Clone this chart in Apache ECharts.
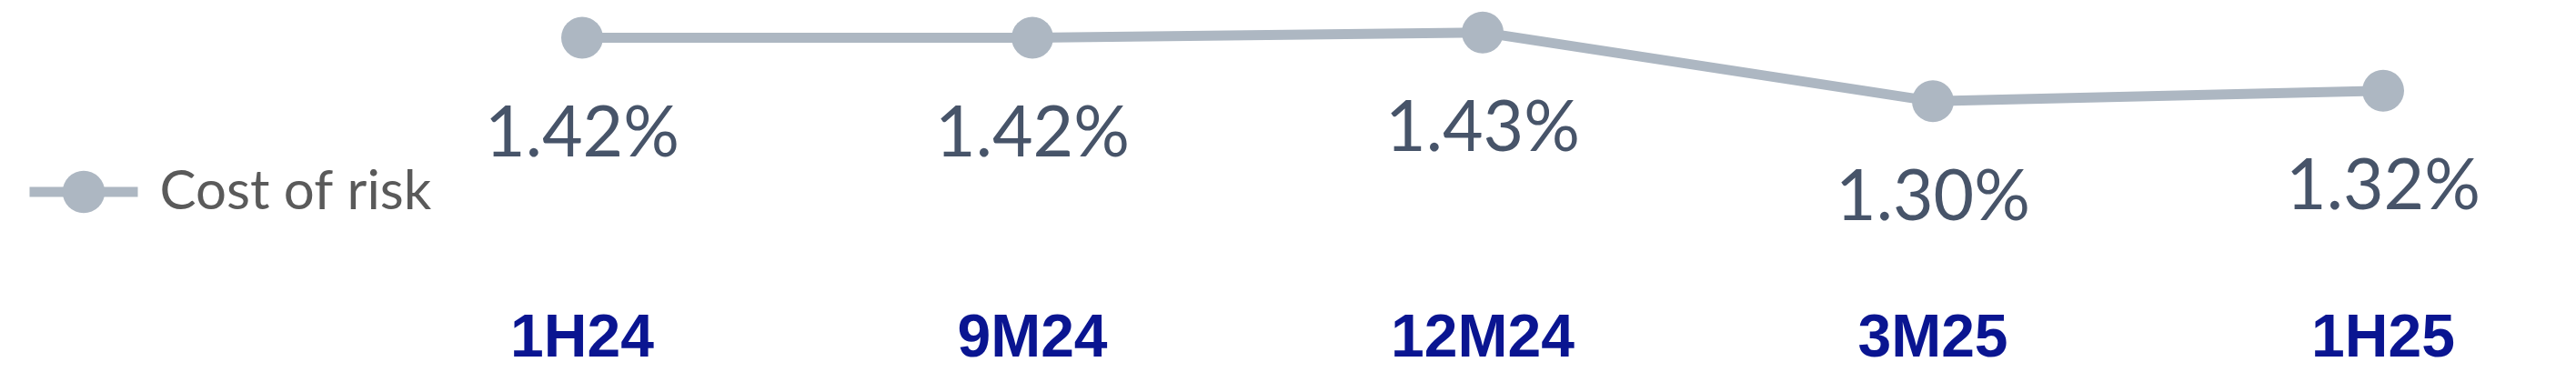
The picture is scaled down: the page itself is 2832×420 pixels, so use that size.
<!DOCTYPE html>
<html>
<head>
<meta charset="utf-8">
<script src="https://cdn.jsdelivr.net/npm/echarts@6/dist/echarts.min.js"></script>
<style>
  html, body { margin: 0; padding: 0; background: #fff; }
  #chart { width: 2832px; height: 420px; }
</style>
</head>
<body>
<div id="chart"></div>
<script>
var periods = ["1H24", "9M24", "12M24", "3M25", "1H25"];
var costOfRisk = [1.42, 1.42, 1.43, 1.30, 1.32];
var seriesName = "Cost of risk";

var lineColor = "#adb7c2";

var myChart = echarts.init(document.getElementById("chart"));
var option = {
  animation: false,
  grid: { left: 640, right: 212, top: 24, bottom: 134 },
  legend: {
    data: [seriesName],
    left: 27,
    top: 181,
    padding: 0,
    itemWidth: 119,
    itemHeight: 58,
    lineStyle: { width: 11 },
    textStyle: {
      fontFamily: "Lato",
      fontSize: 60,
      color: "#5a5a5a",
      padding: [0, 0, 0, 19]
    }
  },
  xAxis: {
    type: "category",
    data: periods,
    boundaryGap: false,
    axisLine: { show: false },
    axisTick: { show: false },
    axisLabel: {
      margin: 55,
      fontFamily: "Liberation Sans",
      fontWeight: "bold",
      fontSize: 66,
      color: "#0a1591"
    }
  },
  yAxis: {
    type: "value",
    min: 1.0,
    max: 1.45,
    show: false,
    splitLine: { show: false }
  },
  series: [
    {
      name: seriesName,
      type: "line",
      data: costOfRisk,
      symbol: "circle",
      symbolSize: 46,
      lineStyle: { color: lineColor, width: 11 },
      itemStyle: { color: lineColor },
      label: {
        show: true,
        position: "bottom",
        distance: 44,
        fontFamily: "Lato",
        fontSize: 77,
        color: "#475469",
        formatter: function (p) { return p.value.toFixed(2) + "%"; }
      }
    }
  ]
};
myChart.setOption(option);
</script>
</body>
</html>
